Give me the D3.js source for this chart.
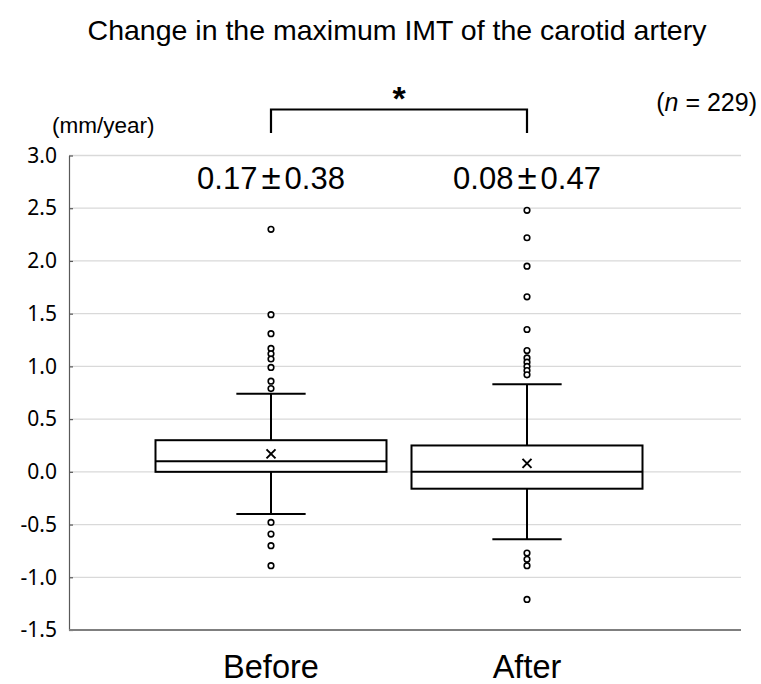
<!DOCTYPE html>
<html><head><meta charset="utf-8">
<script src="https://cdn.jsdelivr.net/npm/d3@7"></script>
<style>body{margin:0;background:#fff}</style>
</head><body>
<svg id="c" width="761" height="684"></svg>
<script>
const categories = ["Before", "After"];
const q1 = [0.00, -0.16];
const median = [0.10, 0.00];
const q3 = [0.30, 0.25];
const whiskerLow = [-0.40, -0.64];
const whiskerHigh = [0.74, 0.83];
const means = [0.17, 0.08];
const meanText = ["0.17", "0.08"];
const sdText = ["0.38", "0.47"];
const outliersBefore = [2.30, 1.49, 1.31, 1.17, 1.12, 1.07, 0.99, 0.86, 0.79, -0.48, -0.59, -0.70, -0.89];
const outliersAfter = [2.48, 2.22, 1.95, 1.66, 1.35, 1.15, 1.08, 1.04, 1.00, 0.96, 0.92, -0.77, -0.83, -0.89, -1.21];
const yTicks = [-1.5, -1.0, -0.5, 0.0, 0.5, 1.0, 1.5, 2.0, 2.5, 3.0];

const outliers = [outliersBefore, outliersAfter];
const svg = d3.select("#c");
const pLeft = 69, pRight = 741, pTop = 155.5, pBottom = 630;
const sans = "Liberation Sans, Arial, sans-serif";

const y = d3.scaleLinear().domain([-1.5, 3]).range([pBottom, pTop]);
const x = d3.scaleBand().domain(categories).range([155.5, 642.5]).paddingInner(0.0977).paddingOuter(0);
const bw = x.bandwidth();
const cx = c => x(c) + bw / 2;

// title
svg.append("text").attr("x", 397).attr("y", 40).attr("text-anchor", "middle")
  .style("font-family", sans).style("font-size", "28.5px").text("Change in the maximum IMT of the carotid artery");

// gridlines
svg.append("g").selectAll("line").data(yTicks.filter(d => d > -1.5)).join("line")
  .attr("x1", pLeft).attr("x2", pRight).attr("y1", d => y(d)).attr("y2", d => y(d))
  .attr("stroke", "#d9d9d9").attr("stroke-width", 1.3);

// y axis
const fmt = d => d3.format(".1f")(d).replace("\u2212", "-");
const yAxis = d3.axisLeft(y).tickValues(yTicks).tickFormat(fmt).tickSizeInner(-4).tickSizeOuter(0).tickPadding(12);
const ga = svg.append("g").attr("transform", `translate(${pLeft},0)`).call(yAxis);
ga.select(".domain").attr("stroke", "#595959").attr("stroke-width", 1.2);
ga.selectAll(".tick line").attr("stroke", "#595959").attr("stroke-width", 1.2);
ga.selectAll(".tick text").style("font-family", "Noto Sans, sans-serif").style("font-size", "21px").attr("fill", "#000");

// bottom axis
svg.append("line").attr("x1", pLeft).attr("x2", pRight).attr("y1", pBottom).attr("y2", pBottom)
  .attr("stroke", "#7f7f7f").attr("stroke-width", 2);

// boxes
categories.forEach((c, i) => {
  const g = svg.append("g");
  const xc = cx(c), cap = bw * 0.3;
  g.append("line").attr("x1", xc).attr("x2", xc).attr("y1", y(whiskerHigh[i])).attr("y2", y(q3[i])).attr("stroke", "#000").attr("stroke-width", 2);
  g.append("line").attr("x1", xc).attr("x2", xc).attr("y1", y(q1[i])).attr("y2", y(whiskerLow[i])).attr("stroke", "#000").attr("stroke-width", 2);
  g.append("line").attr("x1", xc - cap / 2).attr("x2", xc + cap / 2).attr("y1", y(whiskerHigh[i])).attr("y2", y(whiskerHigh[i])).attr("stroke", "#000").attr("stroke-width", 2);
  g.append("line").attr("x1", xc - cap / 2).attr("x2", xc + cap / 2).attr("y1", y(whiskerLow[i])).attr("y2", y(whiskerLow[i])).attr("stroke", "#000").attr("stroke-width", 2);
  g.append("rect").attr("x", x(c)).attr("width", bw).attr("y", y(q3[i])).attr("height", y(q1[i]) - y(q3[i]))
    .attr("fill", "#fff").attr("stroke", "#000").attr("stroke-width", 2);
  g.append("line").attr("x1", x(c)).attr("x2", x(c) + bw).attr("y1", y(median[i])).attr("y2", y(median[i])).attr("stroke", "#000").attr("stroke-width", 2);
  const my = y(means[i]), s = 4.5;
  g.append("path").attr("d", `M${xc - s},${my - s}L${xc + s},${my + s}M${xc - s},${my + s}L${xc + s},${my - s}`)
    .attr("stroke", "#000").attr("stroke-width", 2);
  g.selectAll("circle").data(outliers[i]).join("circle")
    .attr("cx", xc).attr("cy", d => y(d)).attr("r", 2.8)
    .attr("fill", "#fff").attr("stroke", "#000").attr("stroke-width", 1.6);
  const st = svg.append("text").attr("x", xc).attr("y", 189).attr("text-anchor", "middle")
    .style("font-family", sans).style("font-size", "31px");
  st.append("tspan").text(meanText[i]);
  st.append("tspan").attr("dx", 4).style("font-size", "35px").text("\u00B1");
  st.append("tspan").attr("dx", 4).text(sdText[i]);
  svg.append("text").attr("x", xc).attr("y", 678).attr("text-anchor", "middle")
    .style("font-family", sans).style("font-size", "32.5px").text(c);
});

// significance bracket
const b0 = cx(categories[0]), b1 = cx(categories[1]);
svg.append("path").attr("d", `M${b0},133V109.5H${b1}V133`).attr("fill", "none").attr("stroke", "#000").attr("stroke-width", 2.2);
svg.append("text").attr("x", (b0 + b1) / 2).attr("y", 110).attr("text-anchor", "middle")
  .style("font-family", sans).style("font-size", "34px").style("font-weight", "bold").text("*");

// units and n
svg.append("text").attr("x", 52).attr("y", 133)
  .style("font-family", sans).style("font-size", "22.5px").text("(mm/year)");
const nt = svg.append("text").attr("x", 757).attr("y", 111).attr("text-anchor", "end")
  .style("font-family", sans).style("font-size", "25px");
nt.append("tspan").text("(");
nt.append("tspan").style("font-style", "italic").text("n");
nt.append("tspan").text(" = 229)");
</script>
</body></html>
